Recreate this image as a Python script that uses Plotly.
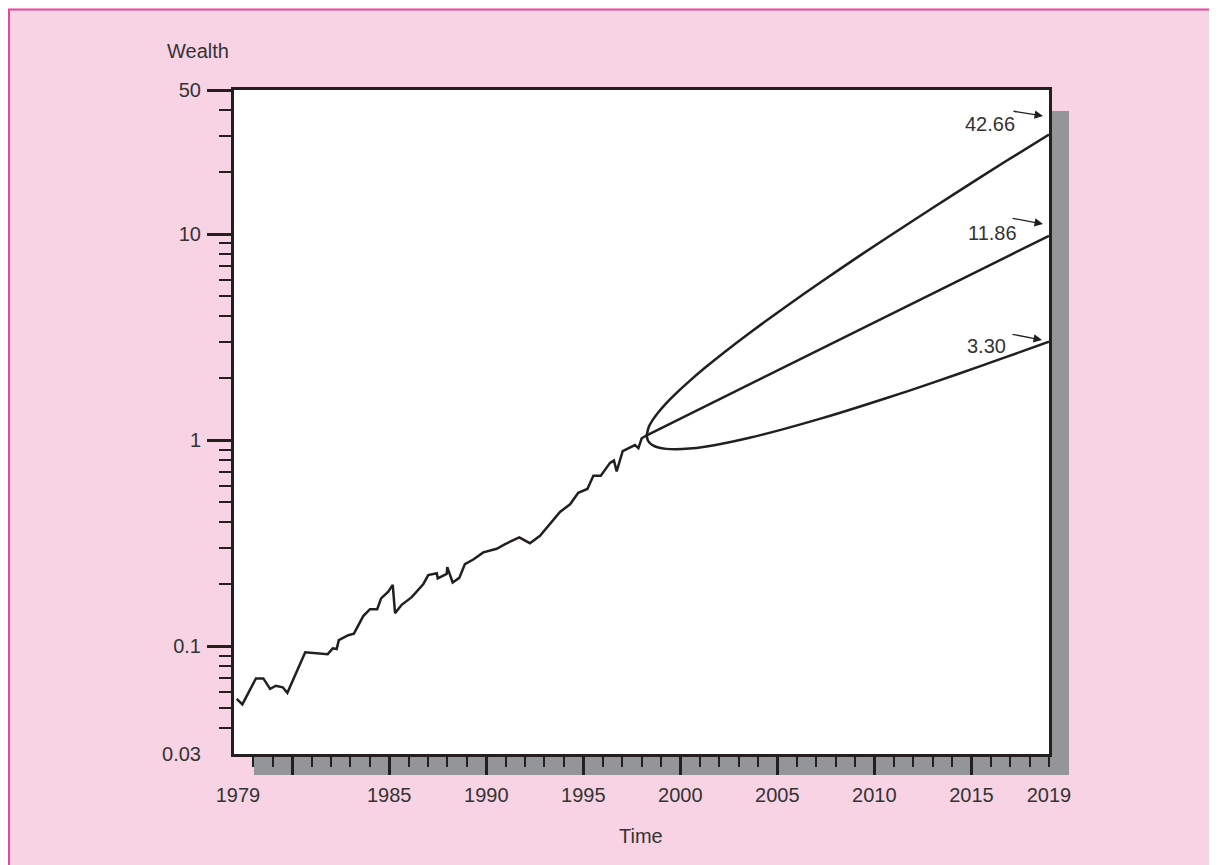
import math
import plotly.graph_objects as go

# ---------------- data ----------------
hist_years = [1977.14, 1977.43, 1978.13, 1978.51, 1978.86, 1979.16, 1979.51, 1979.75,
              1980.67, 1981.83, 1982.09, 1982.29, 1982.40, 1982.89, 1983.18, 1983.66,
              1984.01, 1984.38, 1984.58, 1984.95, 1985.18, 1985.30, 1985.64, 1986.16,
              1986.76, 1987.01, 1987.45, 1987.50, 1987.96, 1987.99, 1988.27, 1988.61,
              1988.90, 1989.33, 1989.85, 1990.54, 1990.97, 1991.70, 1992.25, 1992.77,
              1993.80, 1994.32, 1994.74, 1995.21, 1995.52, 1995.90, 1996.38, 1996.58,
              1996.72, 1997.03, 1997.66, 1997.84, 1998.01, 1998.27]
hist_wealth = [0.0555, 0.0522, 0.0698, 0.0698, 0.0621, 0.0643, 0.0632, 0.0594,
               0.0934, 0.0915, 0.0977, 0.0970, 0.1071, 0.1131, 0.1151, 0.1400,
               0.1513, 0.1513, 0.1707, 0.1839, 0.1985, 0.1448, 0.1588, 0.1730,
               0.2005, 0.2214, 0.2259, 0.2133, 0.2245, 0.2420, 0.2039, 0.2146,
               0.2504, 0.2636, 0.2853, 0.2973, 0.3130, 0.3374, 0.3162, 0.3434,
               0.4484, 0.4885, 0.5548, 0.5799, 0.6719, 0.6719, 0.7757, 0.7977,
               0.7050, 0.8840, 0.9469, 0.9145, 1.0208, 1.0560]

upper_years = [1998.27, 1998.37, 1998.57, 1998.87, 1999.27, 1999.77, 2000.47, 2001.27,
               2002.27, 2003.57, 2005.27, 2007.27, 2009.27, 2011.77, 2014.27, 2016.77, 2019.0]
upper_wealth = [1.056, 1.155, 1.250, 1.366, 1.509, 1.682, 1.934, 2.244,
                2.672, 3.312, 4.332, 5.866, 7.878, 11.25, 15.98, 22.55, 30.38]

median_years = [1998.27, 2003.57, 2011.27, 2019.0]
median_wealth = [1.056, 1.868, 4.28, 9.80]

lower_years = [1998.27, 1998.32, 1998.42, 1998.57, 1998.87, 1999.27, 1999.77, 2000.47,
               2001.27, 2002.27, 2003.57, 2005.27, 2007.27, 2009.27, 2011.77, 2014.27,
               2016.77, 2019.0]
lower_wealth = [1.056, 1.001, 0.9706, 0.9460, 0.9210, 0.9070, 0.9025, 0.9098,
                0.9296, 0.9656, 1.027, 1.128, 1.275, 1.457, 1.735, 2.087,
                2.527, 3.001]

end_labels = ["42.66", "11.86", "3.30"]

x_major_ticks = [1980, 1985, 1990, 1995, 2000, 2005, 2010, 2015]
x_minor_ticks = list(range(1978, 2020))
x_label_vals = [1977.2, 1985, 1990, 1995, 2000, 2005, 2010, 2015, 2019]
x_label_text = ["1979", "1985", "1990", "1995", "2000", "2005", "2010", "2015", "2019"]

y_major_ticks = [0.1, 1, 10, 50]
y_minor_ticks = [0.04, 0.05, 0.06, 0.07, 0.08, 0.09,
                 0.2, 0.3, 0.4, 0.5, 0.6, 0.7, 0.8, 0.9,
                 2, 3, 4, 5, 6, 7, 8, 9, 20, 30, 40]
y_label_vals = [0.03, 0.1, 1, 10, 50]
y_label_text = ["0.03", "0.1", "1", "10", "50"]

x_range = [1977, 2019]
y_range = [math.log10(0.03), math.log10(50)]

# ---------------- style ----------------
INK = "#231f20"
TXT = "#333333"
PINK = "#f8d3e4"
MAGENTA = "#e8449a"
SHADOW = "#939598"
FONT = "Liberation Sans, Arial, Helvetica, sans-serif"
W, H = 1217, 865
OFF = 8  # page body margin
# plot-area edges in page pixels
L, R, T, B = 234, 1049, 90, 754


def px(xp):
    return (xp - L) / (R - L)


def py(yp):
    return (B - yp) / (B - T)


fig = go.Figure()
line_style = dict(color=INK, width=2.5)
fig.add_trace(go.Scatter(x=hist_years, y=hist_wealth, mode="lines", line=line_style,
                         showlegend=False, hoverinfo="skip"))
fig.add_trace(go.Scatter(x=upper_years, y=upper_wealth, mode="lines",
                         line=dict(color=INK, width=2.5, shape="spline", smoothing=0.8),
                         showlegend=False, hoverinfo="skip"))
fig.add_trace(go.Scatter(x=lower_years, y=lower_wealth, mode="lines",
                         line=dict(color=INK, width=2.5, shape="spline", smoothing=0.8),
                         showlegend=False, hoverinfo="skip"))
fig.add_trace(go.Scatter(x=median_years, y=median_wealth, mode="lines", line=line_style,
                         xaxis="x2", yaxis="y2", showlegend=False, hoverinfo="skip"))

tickfont = dict(family=FONT, size=20, color=TXT)

fig.update_layout(
    width=W, height=H,
    margin=dict(l=L - OFF, r=W - (R - OFF), t=T - OFF, b=H - (B - OFF), pad=0),
    paper_bgcolor="white",
    plot_bgcolor="white",
    xaxis=dict(range=x_range, showline=True, linecolor=INK, linewidth=2.5, mirror=True,
               ticks="outside", tickmode="array", tickvals=x_major_ticks, ticklen=18,
               tickwidth=2.5, tickcolor=INK, showticklabels=False, showgrid=False,
               zeroline=False, automargin=False,
               minor=dict(tickmode="array", tickvals=x_minor_ticks, ticklen=10,
                          tickwidth=2, tickcolor=INK, ticks="outside", showgrid=False)),
    yaxis=dict(type="log", range=y_range, showline=True, linecolor=INK, linewidth=2.5,
               mirror=True, ticks="outside", tickmode="array", tickvals=y_major_ticks,
               ticklen=24, tickwidth=2.5, tickcolor=INK, showticklabels=False,
               showgrid=False, zeroline=False, automargin=False,
               minor=dict(tickmode="array", tickvals=y_minor_ticks, ticklen=12,
                          tickwidth=2, tickcolor=INK, ticks="outside", showgrid=False)),
    xaxis2=dict(overlaying="x", anchor="y", side="bottom", range=x_range,
                tickmode="array", tickvals=x_label_vals, ticktext=x_label_text,
                ticks="outside", ticklen=23, tickcolor="rgba(0,0,0,0)", showline=False,
                showgrid=False, zeroline=False, tickfont=tickfont, automargin=False),
    yaxis2=dict(overlaying="y", anchor="x", side="left", type="log", range=y_range,
                tickmode="array", tickvals=y_label_vals, ticktext=y_label_text,
                ticks="outside", ticklen=28, tickcolor="rgba(0,0,0,0)", showline=False,
                showgrid=False, zeroline=False, tickfont=tickfont, automargin=False),
    shapes=[
        dict(type="rect", xref="paper", yref="paper", layer="below",
             x0=px(9), x1=px(1260), y0=py(900), y1=py(9.5),
             fillcolor=PINK, line=dict(color=MAGENTA, width=2)),
        dict(type="rect", xref="paper", yref="paper", layer="below",
             x0=px(254), x1=px(1069), y0=py(775), y1=py(111),
             fillcolor=SHADOW, line=dict(width=0)),
        dict(type="rect", xref="paper", yref="paper", layer="below",
             x0=0, x1=1, y0=0, y1=1, fillcolor="white", line=dict(width=0)),
    ],
)

annotations = [
    dict(text="Wealth", x=px(198), y=py(51), xref="paper", yref="paper",
         showarrow=False, font=dict(family=FONT, size=20, color=TXT),
         xanchor="center", yanchor="middle"),
    dict(text="Time", x=px(641), y=py(836), xref="paper", yref="paper",
         showarrow=False, font=dict(family=FONT, size=20, color=TXT),
         xanchor="center", yanchor="middle"),
]

label_pos = [(990, 124), (992.5, 233), (986.5, 346)]
arrow_pos = [((1043, 116), (-31, -5)), ((1043, 224), (-32, -6)), ((1042, 340), (-31, -6))]
for txt, (lx, ly), ((hx, hy), (dx, dy)) in zip(end_labels, label_pos, arrow_pos):
    annotations.append(dict(text=txt, x=px(lx), y=py(ly), xref="paper", yref="paper",
                            showarrow=False, font=dict(family=FONT, size=20, color=TXT),
                            xanchor="center", yanchor="middle"))
    annotations.append(dict(text="", x=px(hx), y=py(hy), xref="paper", yref="paper",
                            showarrow=True, ax=dx, ay=dy, arrowhead=2, arrowsize=1.3,
                            arrowwidth=1.3, arrowcolor=INK, standoff=0, startstandoff=0))

fig.update_layout(annotations=annotations)

fig.write_html("out.html")
